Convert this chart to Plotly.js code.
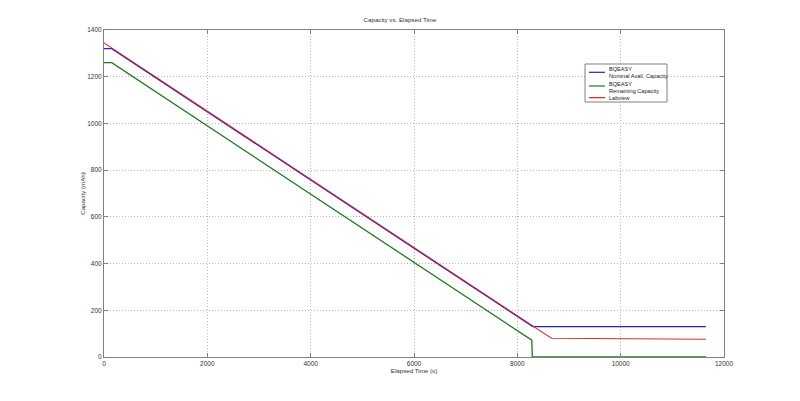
<!DOCTYPE html>
<html>
<head>
<meta charset="utf-8">
<script src="https://cdn.plot.ly/plotly-3.0.1.min.js"></script>
<style>html,body{margin:0;padding:0;background:#fff;}#chart{width:800px;height:401px;}</style>
</head>
<body>
<div id="chart"></div>
<script>
// Series breakpoints
const blueTime = [0, 150, 8300, 11650];
const blueCap = [1320, 1320, 130, 130];
const greenTime = [0, 150, 8280, 8290, 11650];
const greenCap = [1260, 1260, 72, 0, 0];
const redTime = [0, 8660, 11650];
const redCap = [1345, 80, 76];
const seriesNames = ["BQEASY<br>Nominal Avail. Capacity", "BQEASY<br>Remaining Capacity", "Labview"];
const seriesColors = ["#2222d8", "#1d7a1d", "#dc1c1c"];
const xTicks = [0, 2000, 4000, 6000, 8000, 10000, 12000];
const yTicks = [0, 200, 400, 600, 800, 1000, 1200, 1400];

const FAM = "Liberation Sans, Arial, sans-serif";
const font = {family: FAM, size: 7, color: "#333"};

const traces = [
  {x: blueTime, y: blueCap, name: seriesNames[0], mode: "lines", line: {color: seriesColors[0], width: 1.3}},
  {x: greenTime, y: greenCap, name: seriesNames[1], mode: "lines", line: {color: seriesColors[1], width: 1.3}},
  {x: redTime, y: redCap, name: seriesNames[2], mode: "lines", line: {color: seriesColors[2], width: 1.1}, opacity: 0.92}
];

const M = {l: 104, r: 76, t: 30, b: 44};
const W = 800, H = 401;
const pw = W - M.l - M.r, ph = H - M.t - M.b;
const px2x = p => (p - M.l) / pw;
const px2y = p => (H - M.b - p) / ph;

// Custom compact legend (MATLAB-style box)
const shapes = [{
  type: "rect", xref: "paper", yref: "paper",
  x0: px2x(585), x1: px2x(667), y0: px2y(102), y1: px2y(64),
  fillcolor: "#fff", line: {color: "#808080", width: 1}, layer: "above"
}];
const annotations = [];
const lineY = [72.3, 86, 97.7];
const textLines = [[68.5, 76], [83.5, 91], [97.7]];
seriesNames.forEach((name, i) => {
  shapes.push({
    type: "line", xref: "paper", yref: "paper",
    x0: px2x(589), x1: px2x(605), y0: px2y(lineY[i]), y1: px2y(lineY[i]),
    line: {color: seriesColors[i], width: 1.2}, layer: "above"
  });
  name.split("<br>").forEach((t, j) => {
    annotations.push({
      xref: "paper", yref: "paper", x: px2x(606.5), y: px2y(textLines[i][j]),
      xanchor: "left", yanchor: "middle", showarrow: false, text: t,
      font: {family: FAM, size: 5.6, color: "#222"}
    });
  });
});

const axisCommon = {
  showline: true, linecolor: "#808080", linewidth: 1, mirror: "ticks",
  ticks: "inside", ticklen: 4, tickcolor: "#808080",
  showgrid: true, gridcolor: "#b8b8b8", griddash: "1px,2px", gridwidth: 1,
  zeroline: false, tickfont: {family: FAM, size: 6.5, color: "#333"}
};

const smallFont = {family: FAM, size: 6.2, color: "#333"};

const layout = {
  width: W, height: H,
  margin: M,
  paper_bgcolor: "#fff", plot_bgcolor: "#fff",
  font: font,
  title: {text: "Capacity vs. Elapsed Time", font: smallFont, x: 0.5, xanchor: "center", y: 0.95, yanchor: "middle"},
  xaxis: Object.assign({}, axisCommon, {
    range: [0, 12000], tickvals: xTicks, ticktext: xTicks.map(String),
    title: {text: "Elapsed Time (s)", font: smallFont, standoff: 1}
  }),
  yaxis: Object.assign({}, axisCommon, {
    range: [0, 1400], tickvals: yTicks, ticktext: yTicks.map(String),
    title: {text: "Capacity (mAh)", font: smallFont, standoff: 1}
  }),
  showlegend: false,
  shapes: shapes,
  annotations: annotations
};

Plotly.newPlot("chart", traces, layout, {staticPlot: true, displayModeBar: false});
</script>
</body>
</html>
